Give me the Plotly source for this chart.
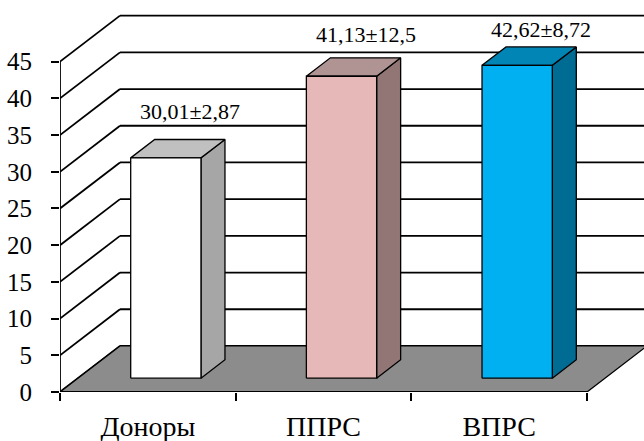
import plotly.graph_objects as go

# ---- data ----
categories = ["Доноры", "ППРС", "ВПРС"]
means = [30.01, 41.13, 42.62]
sds = [2.87, 12.5, 8.72]
y_ticks = [0, 5, 10, 15, 20, 25, 30, 35, 40, 45]

# ---- styling ----
front_colors = ["#ffffff", "#e6b9b8", "#00b0f0"]
top_colors = ["#c0c0c0", "#b09494", "#0085b5"]
side_colors = ["#a6a6a6", "#927676", "#006b93"]
floor_color = "#8c8c8c"
label_lift_px = [28, 23, 17]

SERIF = "Liberation Serif"

# ---- pseudo-3D geometry (in axis units) ----
Y_VIEW = 53.4          # visible y range
X_VIEW = 3.3245        # visible x range
DEPTH_X = 0.3416       # horizontal shift of the back wall
DEPTH_Y = 6.27         # vertical shift of the back wall
BAR_W0, BAR_W1 = 0.3, 0.7   # bar span inside a category
BAR_D0, BAR_D1 = 0.3, 0.7   # bar span in depth
N = len(categories)
TOP = max(y_ticks)


def proj(x, y, d):
    """Oblique projection: depth d in [0, 1] moves right and up."""
    return x + d * DEPTH_X, y + d * DEPTH_Y


def poly(points, fill, width=1.3):
    xs = [p[0] for p in points] + [points[0][0]]
    ys = [p[1] for p in points] + [points[0][1]]
    return go.Scatter(x=xs, y=ys, mode="lines", fill="toself",
                      fillcolor=fill, line=dict(color="black", width=width),
                      hoverinfo="skip", showlegend=False)


fig = go.Figure()

# back wall gridlines and side wall diagonals
gx, gy = [], []
for v in y_ticks:
    a, b = proj(0, v, 1), proj(N, v, 1)
    gx += [a[0], b[0], None]
    gy += [a[1], b[1], None]
    c = proj(0, v, 0)
    gx += [c[0], a[0], None]
    gy += [c[1], a[1], None]
fig.add_trace(go.Scatter(x=gx, y=gy, mode="lines",
                         line=dict(color="black", width=1.8),
                         hoverinfo="skip", showlegend=False))

# floor
fig.add_trace(poly([proj(0, 0, 0), proj(N, 0, 0), proj(N, 0, 1), proj(0, 0, 1)],
                   floor_color, width=1.3))

# bars
for i, v in enumerate(means):
    x0, x1 = i + BAR_W0, i + BAR_W1
    front = [proj(x0, 0, BAR_D0), proj(x1, 0, BAR_D0), proj(x1, v, BAR_D0), proj(x0, v, BAR_D0)]
    top = [proj(x0, v, BAR_D0), proj(x1, v, BAR_D0), proj(x1, v, BAR_D1), proj(x0, v, BAR_D1)]
    side = [proj(x1, 0, BAR_D0), proj(x1, 0, BAR_D1), proj(x1, v, BAR_D1), proj(x1, v, BAR_D0)]
    fig.add_trace(poly(side, side_colors[i]))
    fig.add_trace(poly(top, top_colors[i]))
    fig.add_trace(poly(front, front_colors[i]))

# front axis edges
fig.add_trace(go.Scatter(x=[0, 0, None, 0, N], y=[TOP, 0, None, 0, 0], mode="lines",
                         line=dict(color="black", width=1.8),
                         hoverinfo="skip", showlegend=False))

# value labels above each bar
for i, (m, s) in enumerate(zip(means, sds)):
    text = f"{m:.2f}".replace(".", ",") + "±" + f"{s:g}".replace(".", ",")
    lx, ly = proj(i + 0.5, m, BAR_D1)
    fig.add_annotation(x=lx, y=ly, text=text, showarrow=False,
                       xanchor="center", yanchor="middle",
                       yshift=label_lift_px[i],
                       font=dict(family=SERIF, size=22, color="black"))

fig.update_layout(
    width=644, height=441,
    margin=dict(l=60, r=0, t=0, b=49),
    paper_bgcolor="white", plot_bgcolor="white",
    font=dict(family=SERIF, color="black"),
    xaxis=dict(range=[0, X_VIEW], showgrid=False, zeroline=False, showline=False,
               automargin=False,
               tickmode="array", tickvals=[i + 0.5 for i in range(N)],
               ticktext=categories, ticks="", ticklabelstandoff=15,
               tickfont=dict(family=SERIF, size=28, color="black"),
               minor=dict(tickmode="array", tickvals=list(range(N + 1)),
                          ticks="outside", ticklen=8, tickwidth=1.5,
                          tickcolor="black", showgrid=False),
               fixedrange=True),
    yaxis=dict(range=[0, Y_VIEW], showgrid=False, zeroline=False, showline=False,
               automargin=False,
               tickmode="array", tickvals=y_ticks,
               ticks="outside", ticklen=8, tickwidth=1.5, tickcolor="black",
               ticklabelstandoff=14,
               tickfont=dict(family=SERIF, size=25, color="black"),
               fixedrange=True),
)

fig.write_html("out.html")
